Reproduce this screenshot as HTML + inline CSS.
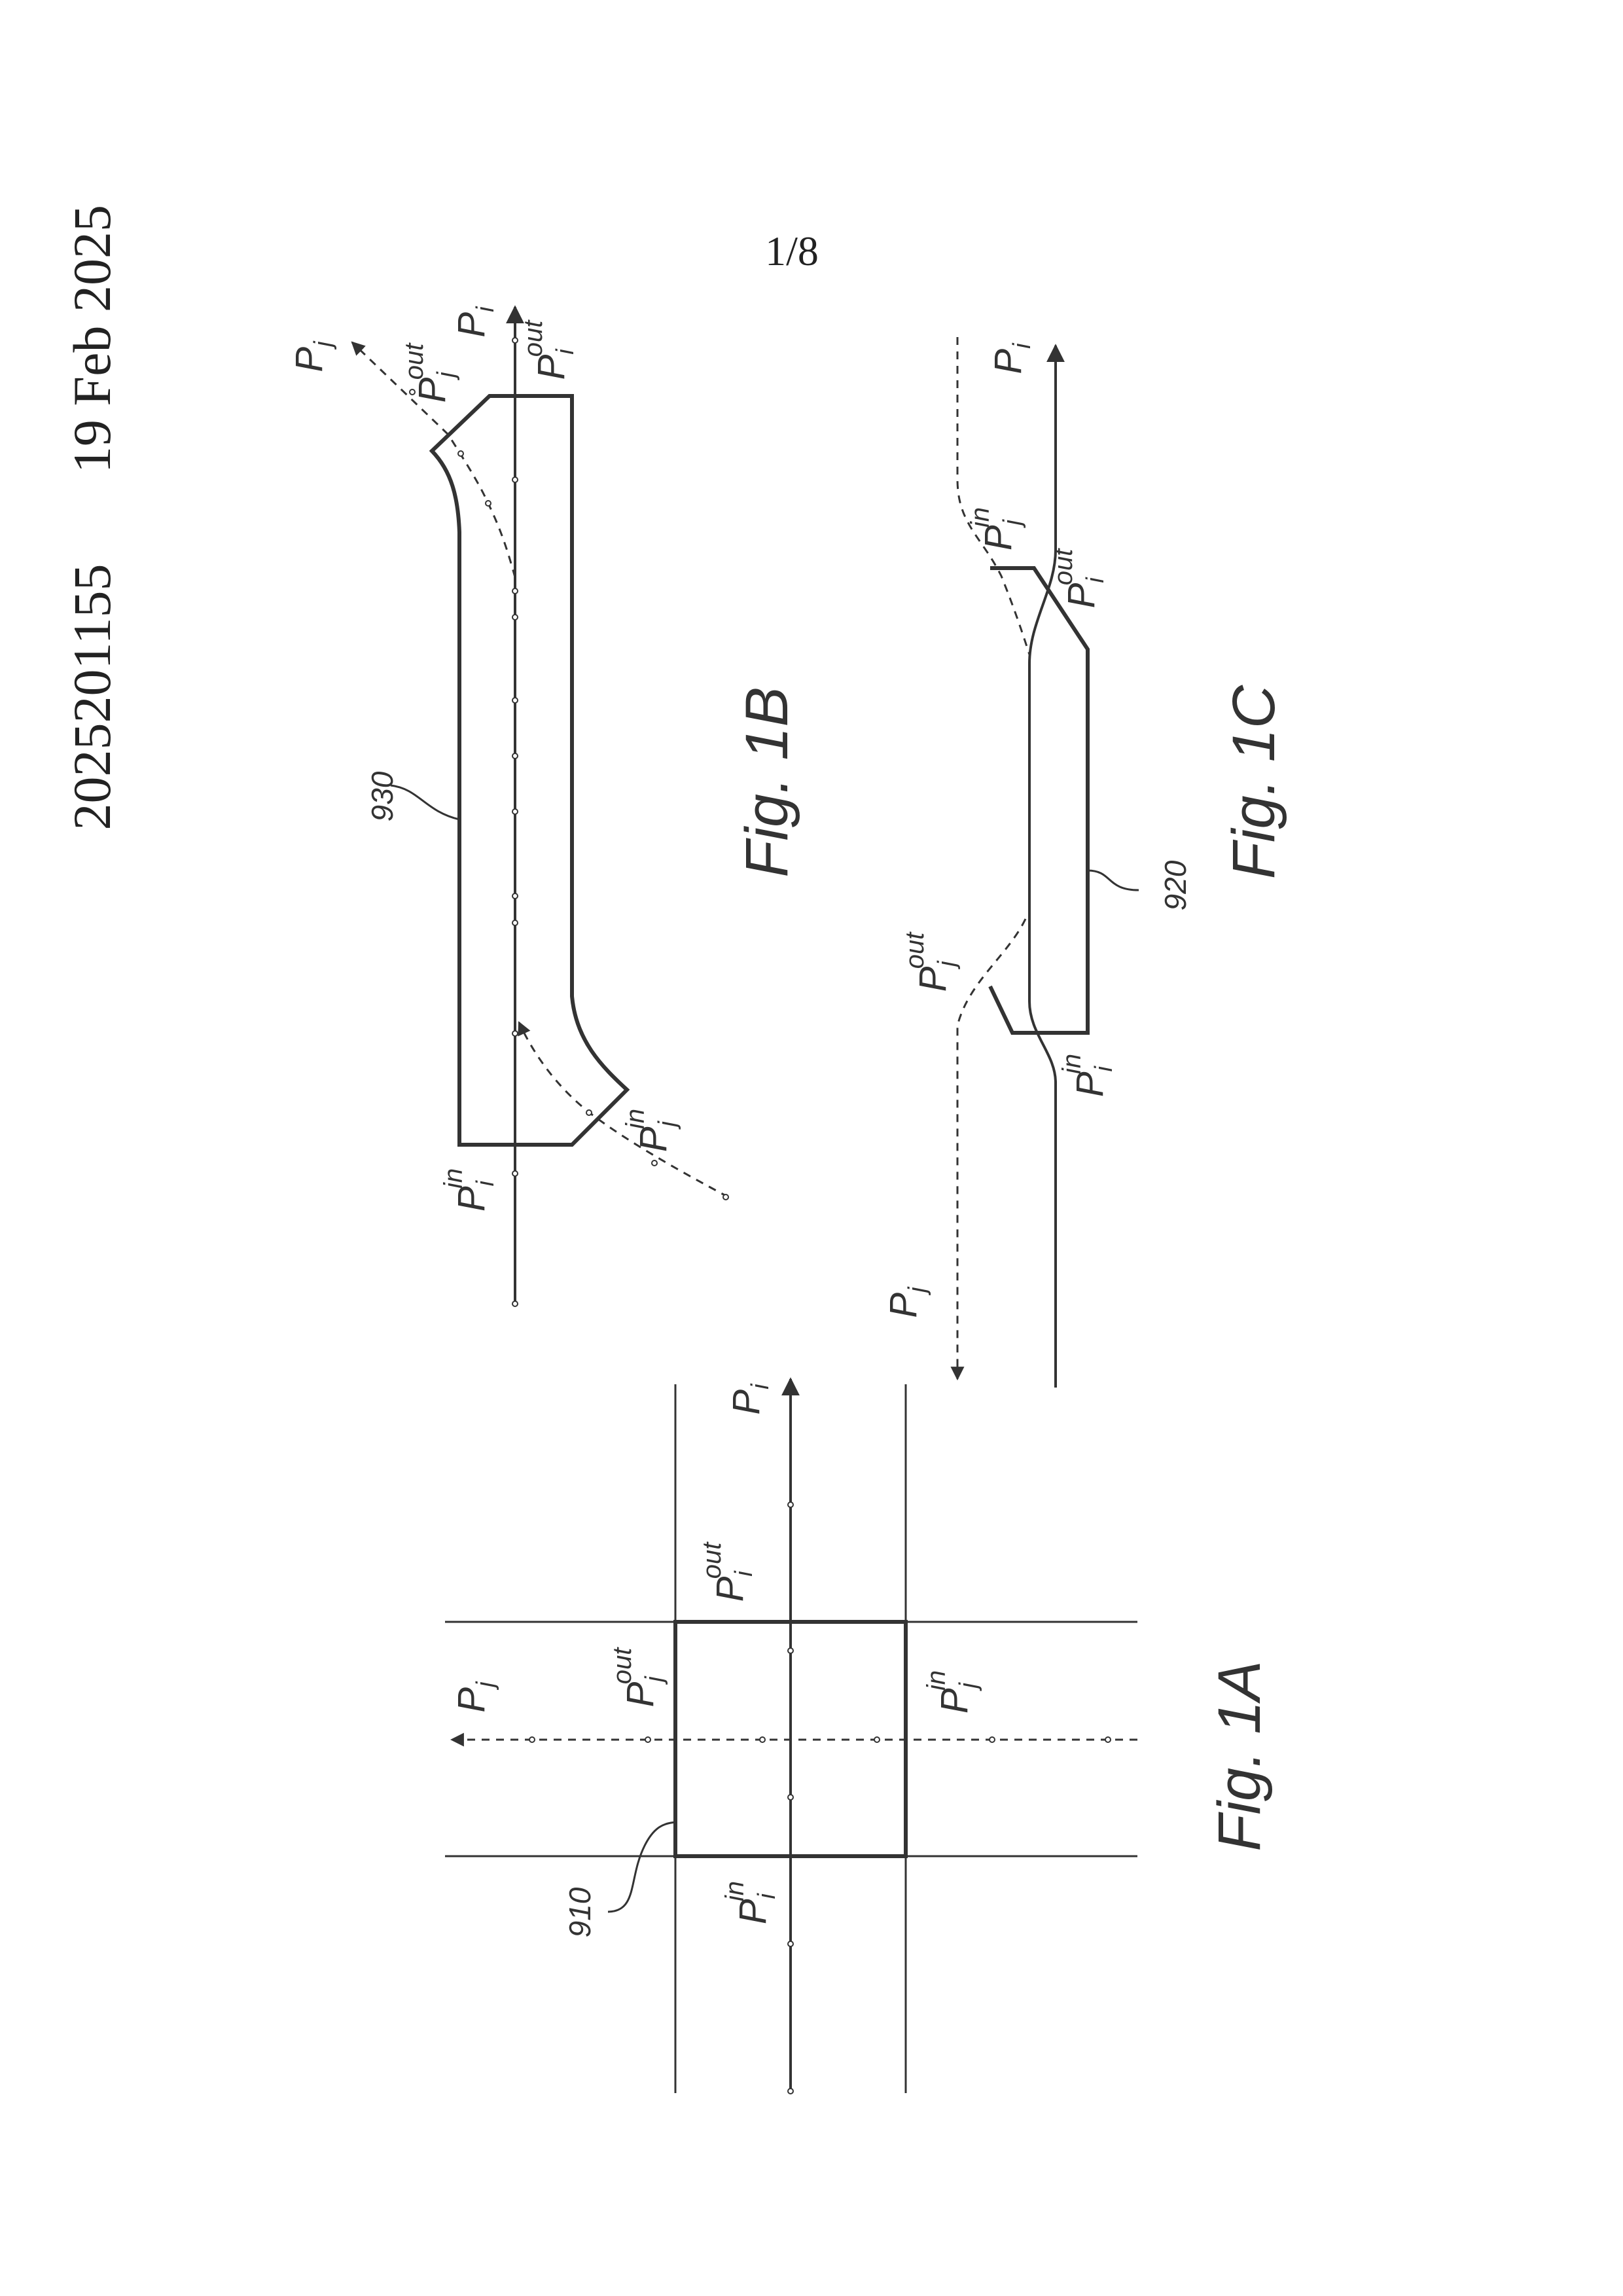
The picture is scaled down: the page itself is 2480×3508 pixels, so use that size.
<!DOCTYPE html>
<html><head><meta charset="utf-8"><style>
html,body{margin:0;padding:0;background:#fff}
svg{display:block}
.t{font-family:"Liberation Sans",sans-serif;font-style:italic;fill:#333}
.s{font-family:"Liberation Serif",serif;fill:#222}
</style></head><body>
<svg width="2480" height="3508" viewBox="0 0 2480 3508" xmlns="http://www.w3.org/2000/svg">
<defs>
<marker id="a" viewBox="0 0 10 10" refX="9" refY="5" markerWidth="7" markerHeight="7" orient="auto" markerUnits="strokeWidth">
<path d="M0,0 L10,5 L0,10 z" fill="#333"/></marker>
</defs>
<text class="s" font-size="82" transform="translate(168,1065) rotate(-90)" text-anchor="middle">2025201155</text>
<text class="s" font-size="82" transform="translate(168,518) rotate(-90)" text-anchor="middle">19 Feb 2025</text>
<text class="s" font-size="64" x="1210" y="405" text-anchor="middle">1/8</text>

<!-- Fig 1A -->
<g stroke="#333" fill="none" stroke-width="3">
<line x1="1032" y1="2115" x2="1032" y2="3198"/>
<line x1="1384" y1="2115" x2="1384" y2="3198"/>
<line x1="680" y1="2478" x2="1738" y2="2478"/>
<line x1="680" y1="2836" x2="1738" y2="2836"/>
<line x1="1208" y1="3195" x2="1208" y2="2107" stroke-width="4" marker-end="url(#a)"/>
<line x1="1738" y1="2658" x2="690" y2="2658" stroke-dasharray="12,10" marker-end="url(#a)"/>
<rect x="1032" y="2478" width="352" height="358" stroke-width="6"/>
<path d="M929,2921 C975,2920 960,2870 985,2820 C1000,2790 1015,2786 1032,2784"/>
</g>
<g fill="#fff" stroke="#333" stroke-width="2">
<circle cx="1208" cy="2299" r="4"/><circle cx="1208" cy="2522" r="4"/><circle cx="1208" cy="2746" r="4"/><circle cx="1208" cy="2970" r="4"/><circle cx="1208" cy="3195" r="4"/>
<circle cx="813" cy="2658" r="4"/><circle cx="990" cy="2658" r="4"/><circle cx="1165" cy="2658" r="4"/><circle cx="1340" cy="2658" r="4"/><circle cx="1516" cy="2658" r="4"/><circle cx="1693" cy="2658" r="4"/>
</g>
<g class="t" font-size="58">
<text transform="translate(1160,2138) rotate(-90)" text-anchor="middle">P<tspan font-size="38" dy="14">i</tspan></text>
<text transform="translate(1135,2402) rotate(-90)" text-anchor="middle">P<tspan font-size="38" dy="14">i</tspan><tspan font-size="40" dx="-12" dy="-48">out</tspan></text>
<text transform="translate(740,2593) rotate(-90)" text-anchor="middle">P<tspan font-size="38" dy="14">j</tspan></text>
<text transform="translate(998,2563) rotate(-90)" text-anchor="middle">P<tspan font-size="38" dy="14">j</tspan><tspan font-size="40" dx="-12" dy="-48">out</tspan></text>
<text transform="translate(1478,2585) rotate(-90)" text-anchor="middle">P<tspan font-size="38" dy="14">j</tspan><tspan font-size="40" dx="-12" dy="-48">in</tspan></text>
<text transform="translate(1170,2907) rotate(-90)" text-anchor="middle">P<tspan font-size="38" dy="14">i</tspan><tspan font-size="40" dx="-12" dy="-48">in</tspan></text>
<text transform="translate(902,2922) rotate(-90)" text-anchor="middle" font-size="46">910</text>
</g>
<text class="t" font-size="92" transform="translate(1925,2683) rotate(-90)" text-anchor="middle">Fig. 1A</text>

<!-- Fig 1B -->
<g stroke="#333" fill="none" stroke-width="3">
<line x1="787" y1="1992" x2="787" y2="469" stroke-width="4" marker-end="url(#a)"/>
<path d="M748,605 L874,605 L874,1522 C880,1590 920,1630 958,1665 L874,1749 L702,1749 L702,813 C700,760 690,720 660,689 Z" stroke-width="6" stroke-linejoin="miter"/>
<path d="M1113,1829 C1040,1790 960,1745 902,1701 C850,1660 815,1610 793,1562" stroke-dasharray="12,10" marker-end="url(#a)"/>
<path d="M787,882 C770,820 758,795 746,769 C730,735 715,712 685,664 L538,523" stroke-dasharray="12,10" marker-end="url(#a)"/>
<path d="M597,1200 C640,1205 650,1240 702,1252" stroke-width="3"/>
</g>
<g fill="#fff" stroke="#333" stroke-width="2">
<circle cx="787" cy="520" r="4"/><circle cx="787" cy="733" r="4"/><circle cx="787" cy="903" r="4"/><circle cx="787" cy="943" r="4"/><circle cx="787" cy="1070" r="4"/><circle cx="787" cy="1155" r="4"/><circle cx="787" cy="1240" r="4"/><circle cx="787" cy="1369" r="4"/><circle cx="787" cy="1410" r="4"/><circle cx="787" cy="1579" r="4"/><circle cx="787" cy="1793" r="4"/><circle cx="787" cy="1992" r="4"/>
<circle cx="630" cy="599" r="4"/><circle cx="704" cy="693" r="4"/><circle cx="746" cy="769" r="4"/><circle cx="900" cy="1700" r="4"/><circle cx="1000" cy="1777" r="4"/><circle cx="1109" cy="1829" r="4"/>
</g>
<g class="t" font-size="58">
<text transform="translate(740,492) rotate(-90)" text-anchor="middle">P<tspan font-size="38" dy="14">i</tspan></text>
<text transform="translate(862,535) rotate(-90)" text-anchor="middle">P<tspan font-size="38" dy="14">i</tspan><tspan font-size="40" dx="-12" dy="-48">out</tspan></text>
<text transform="translate(680,570) rotate(-90)" text-anchor="middle">P<tspan font-size="38" dy="14">j</tspan><tspan font-size="40" dx="-12" dy="-48">out</tspan></text>
<text transform="translate(492,545) rotate(-90)" text-anchor="middle">P<tspan font-size="38" dy="14">j</tspan></text>
<text transform="translate(740,1818) rotate(-90)" text-anchor="middle">P<tspan font-size="38" dy="14">i</tspan><tspan font-size="40" dx="-12" dy="-48">in</tspan></text>
<text transform="translate(1018,1727) rotate(-90)" text-anchor="middle">P<tspan font-size="38" dy="14">j</tspan><tspan font-size="40" dx="-12" dy="-48">in</tspan></text>
<text transform="translate(600,1217) rotate(-90)" text-anchor="middle" font-size="46">930</text>
</g>
<text class="t" font-size="92" transform="translate(1203,1195) rotate(-90)" text-anchor="middle">Fig. 1B</text>

<!-- Fig 1C -->
<g stroke="#333" fill="none" stroke-width="3">
<path d="M1613,2120 L1613,1654 C1613,1610 1573,1580 1573,1530 L1573,1014 C1573,950 1613,900 1613,840 L1613,528" stroke-width="4" marker-end="url(#a)"/>
<path d="M1513,868 L1580,868 L1662,992 L1662,1578 L1547,1578 L1513,1507" stroke-width="6"/>
<path d="M1463,515 L1463,732 C1463,800 1500,820 1530,880 C1550,930 1560,960 1573,1000" stroke-dasharray="12,10"/>
<path d="M1567,1404 C1540,1460 1480,1500 1463,1567 L1463,2107" stroke-dasharray="12,10" marker-end="url(#a)"/>
<path d="M1662,1330 C1700,1330 1690,1360 1740,1360" stroke-width="3"/>
</g>
<g class="t" font-size="58">
<text transform="translate(1560,548) rotate(-90)" text-anchor="middle">P<tspan font-size="38" dy="14">i</tspan></text>
<text transform="translate(1545,808) rotate(-90)" text-anchor="middle">P<tspan font-size="38" dy="14">j</tspan><tspan font-size="40" dx="-12" dy="-48">in</tspan></text>
<text transform="translate(1672,884) rotate(-90)" text-anchor="middle">P<tspan font-size="38" dy="14">i</tspan><tspan font-size="40" dx="-12" dy="-48">out</tspan></text>
<text transform="translate(1445,1470) rotate(-90)" text-anchor="middle">P<tspan font-size="38" dy="14">j</tspan><tspan font-size="40" dx="-12" dy="-48">out</tspan></text>
<text transform="translate(1685,1643) rotate(-90)" text-anchor="middle">P<tspan font-size="38" dy="14">i</tspan><tspan font-size="40" dx="-12" dy="-48">in</tspan></text>
<text transform="translate(1400,1990) rotate(-90)" text-anchor="middle">P<tspan font-size="38" dy="14">j</tspan></text>
<text transform="translate(1812,1353) rotate(-90)" text-anchor="middle" font-size="46">920</text>
</g>
<text class="t" font-size="92" transform="translate(1947,1195) rotate(-90)" text-anchor="middle">Fig. 1C</text>
</svg>
</body></html>
